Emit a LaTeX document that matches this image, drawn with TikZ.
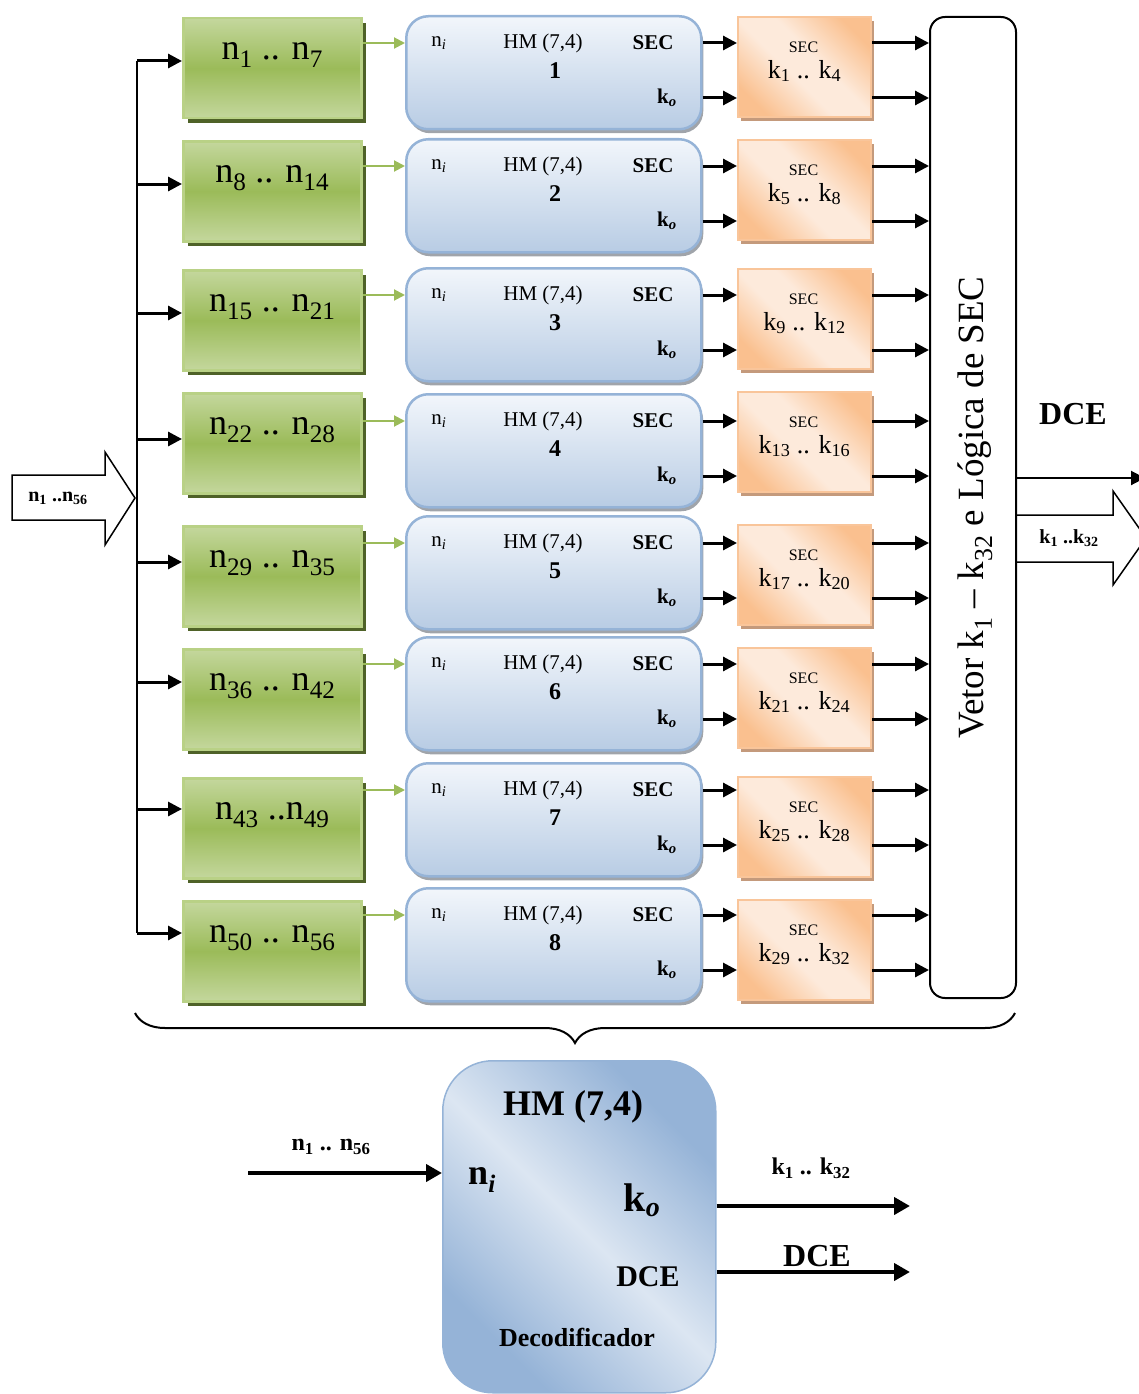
\documentclass[tikz,border=0pt]{standalone}
\usepackage{fontspec}
\setmainfont{Liberation Serif}
\usetikzlibrary{arrows.meta,positioning,shadows,decorations.pathreplacing,calc}

\definecolor{grnlight}{HTML}{C4D79D}
\definecolor{grnmid}{HTML}{9BBB59}
\definecolor{grnline}{HTML}{B9D186}
\definecolor{grnshadow}{HTML}{4F6228}
\definecolor{blutop}{HTML}{F2F6FB}
\definecolor{blubot}{HTML}{B8CCE4}
\definecolor{bluline}{HTML}{95B3D7}
\definecolor{blushadow}{HTML}{A0A4AA}
\definecolor{orgdark}{HTML}{FAC08F}
\definecolor{orglight}{HTML}{FDEADB}
\definecolor{orgline}{HTML}{F9C59A}
\definecolor{orgshadow}{HTML}{C49A7C}
\definecolor{bigdark}{HTML}{95B3D7}
\definecolor{biglight}{HTML}{DCE6F2}

\pgfdeclarehorizontalshading{orgdiag}{100bp}{color(0bp)=(orgdark); color(24bp)=(orgdark); color(44bp)=(orglight); color(56bp)=(orglight); color(76bp)=(orgdark); color(100bp)=(orgdark)}
\pgfdeclarehorizontalshading{bigdiag}{100bp}{color(0bp)=(bigdark); color(27bp)=(bigdark); color(50bp)=(biglight); color(73bp)=(bigdark); color(100bp)=(bigdark)}

\newcommand{\fsz}[1]{\fontsize{#1}{#1}\selectfont}

\tikzset{
  >={Triangle[length=14pt,width=14pt]},
  grnbox/.style={draw=grnline, line width=2.5pt, top color=grnlight, bottom color=grnlight, middle color=grnmid,
    minimum width=178pt, minimum height=100pt, anchor=north west, inner sep=0pt,
    drop shadow={shadow xshift=5pt, shadow yshift=-5pt, fill=grnshadow, opacity=1}},
  hmbox/.style={draw=bluline, line width=2.5pt, rounded corners=22pt, top color=blutop, bottom color=blubot,
    minimum width=295pt, minimum height=113pt, anchor=north west, inner sep=0pt,
    drop shadow={shadow xshift=2pt, shadow yshift=-4pt, fill=blushadow, opacity=1}},
  orgbox/.style={draw=orgline, line width=2pt, shading=orgdiag, shading angle=45,
    minimum width=133pt, minimum height=100pt, anchor=north west, inner sep=0pt,
    drop shadow={shadow xshift=3pt, shadow yshift=-4pt, fill=orgshadow, opacity=1}},
  vetbox/.style={draw, line width=2pt, rounded corners=15pt, fill=white,
    minimum width=86pt, minimum height=981pt, anchor=north west, inner sep=0pt},
  bigbox/.style={draw=bluline, line width=1.5pt, rounded corners=50pt, shading=bigdiag, shading angle=45,
    minimum width=273pt, minimum height=332pt, anchor=north west, inner sep=0pt},
  grntxt/.style={font=\fsz{36}, inner sep=0pt},
  hmtxt/.style={font=\fsz{21}, inner sep=0pt},
  orgtxt/.style={font=\fsz{26}, inner sep=0pt},
  blkarrow/.style={->, line width=3pt},
  grnarrow/.style={-{Triangle[length=11pt,width=11pt]}, line width=2pt, draw=grnmid},
  bigarrow/.style={-{Triangle[length=16pt,width=17pt]}, line width=4.5pt},
}

\begin{document}
\begin{tikzpicture}[x=1pt, y=-1pt]
\useasboundingbox (0,0) rectangle (1138,1394);

% Vector block
\node[vetbox] (vet) at (929,16) {};
\node[font=\fsz{37}, rotate=90, inner sep=0pt] (vetl) at ([xshift=2pt]vet.center)
  {Vetor k\textsubscript{1} – k\textsubscript{32} e Lógica de SEC};

% Rows: green block, HM (7,4) block, SEC block
\foreach \i/\gt/\ay/\bt/\ot/\lo/\hi/\klo/\khi/\gap in {1/17/61/15/16/1/7/1/4/\space, 2/140/184/138/139/8/14/5/8/\space,
    3/269/313/267/268/15/21/9/12/\space, 4/392/439/393/391/22/28/13/16/\space, 5/525/562/515/524/29/35/17/20/\space,
    6/648/682/636/647/36/42/21/24/\space, 7/777/809/762/776/43/49/25/28/\relax, 8/900/933/887/899/50/56/29/32/\space} {
    \node[grnbox] (g\i) at (182,\gt) {};
    \node[grntxt] (gl\i) at ([yshift=-38pt]g\i.north) {n\textsubscript{\lo} ..\gap n\textsubscript{\hi}};
    \node[hmbox] (hm\i) at (405,\bt) {};
    \node[hmtxt] (ni\i) at ([xshift=34pt,yshift=-28pt]hm\i.north west) {n\textsubscript{\itshape i}};
    \node[hmtxt] (hl\i) at ([xshift=138pt,yshift=-28pt]hm\i.north west) {HM (7,4)};
    \node[hmtxt, font=\fsz{21}\bfseries] (hs\i) at ([xshift=248pt,yshift=-28pt]hm\i.north west) {SEC};
    \node[hmtxt, font=\fsz{24}\bfseries] (hn\i) at ([xshift=150pt,yshift=-56pt]hm\i.north west) {\i};
    \node[hmtxt, font=\fsz{21}\bfseries] (ko\i) at ([xshift=262pt,yshift=-83pt]hm\i.north west) {k\textsubscript{\itshape o}};
    \node[orgbox] (or\i) at (737,\ot) {};
    \node[font=\fsz{16}, inner sep=0pt] (os\i) at ([xshift=-1pt,yshift=-31pt]or\i.north) {SEC};
    \node[orgtxt] (ok\i) at ([yshift=-55pt]or\i.north) {k\textsubscript{\klo} .. k\textsubscript{\khi}};
    % connectors
    \coordinate (b\i) at (137,\ay);
    \draw[blkarrow] (b\i) -- (b\i -| g\i.west);
    \draw[grnarrow] (hl\i -| g\i.east) -- (hl\i -| hm\i.west);
    \draw[blkarrow] (hs\i -| hm\i.east) -- (hs\i -| or\i.west);
    \draw[blkarrow] (ko\i -| hm\i.east) -- (ko\i -| or\i.west);
    \draw[blkarrow] (hs\i -| or\i.east) -- (hs\i -| vet.west);
    \draw[blkarrow] (ko\i -| or\i.east) -- (ko\i -| vet.west);
}

% Input bus
\draw[line width=2pt] (b1) -- (b8);
\draw[line width=1.5pt, fill=white] (12,475) -- (105,475) -- (105,452) -- (135,498) -- (105,545) -- (105,520) -- (12,520) -- cycle;
\node[font=\fsz{20}\bfseries, inner sep=0pt] (nin) at (58,498) {n\textsubscript{1} ..n\textsubscript{56}};

% Outputs of the vector block
\coordinate (dceout) at (1145,478);
\draw[line width=2pt, ->] (dceout -| vet.east) -- (dceout);
\node[font=\fsz{32}\bfseries, inner sep=0pt] (dcetop) at (1073,414) {DCE};
\draw[line width=1.5pt] (1015,515) -- (1113,515) -- (1113,491) -- (1146,538) -- (1113,585) -- (1113,562) -- (1015,562);
\node[font=\fsz{20}\bfseries, inner sep=0pt] (kout) at (1069,538) {k\textsubscript{1} ..k\textsubscript{32}};

% Brace
\draw[line width=2pt, decorate, decoration={brace, amplitude=30pt}] (1015,1013) -- (135,1013);

% Decoder
\node[bigbox] (dec) at (442,1060) {};
\node[font=\fsz{36}\bfseries, inner sep=0pt] (dechm) at ([xshift=131pt,yshift=-47pt]dec.north west) {HM (7,4)};
\node[font=\fsz{36}\bfseries, inner sep=0pt] (decni) at ([xshift=40pt,yshift=-120pt]dec.north west) {n\textsubscript{\itshape i}};
\node[font=\fsz{40}\bfseries, inner sep=0pt] (decko) at ([xshift=200pt,yshift=-140pt]dec.north west) {k\textsubscript{\itshape o}};
\node[font=\fsz{30}\bfseries, inner sep=0pt] (decdce) at ([xshift=206pt,yshift=-217pt]dec.north west) {DCE};
\node[font=\fsz{26}\bfseries, inner sep=0pt] (decname) at ([xshift=135pt,yshift=-277pt]dec.north west) {Decodificador};

\coordinate (decin) at (248,1173);
\draw[bigarrow] (decin) -- (decin -| dec.west);
\node[font=\fsz{24}\bfseries, inner sep=0pt] (decinl) at (331,1147) {n\textsubscript{1} .. n\textsubscript{56}};
\coordinate (decko out) at (910,1206);
\draw[bigarrow] (decko out -| dec.east) -- (decko out);
\node[font=\fsz{24}\bfseries, inner sep=0pt] (deckol) at (811,1168) {k\textsubscript{1} .. k\textsubscript{32}};
\coordinate (decdce out) at (910,1272);
\draw[bigarrow] (decdce out -| dec.east) -- (decdce out);
\node[font=\fsz{32}\bfseries, inner sep=0pt] (decdcel) at (817,1256) {DCE};
\end{tikzpicture}
\end{document}
